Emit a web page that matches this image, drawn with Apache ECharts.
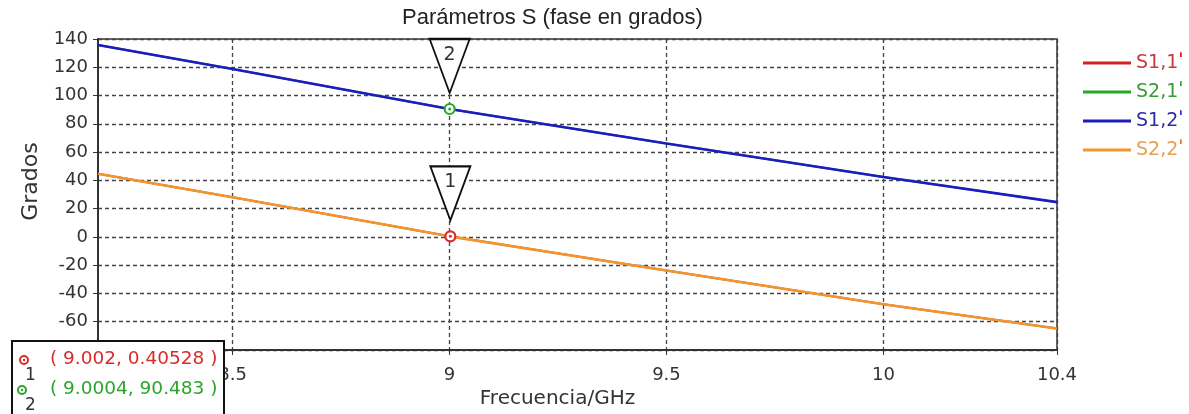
<!DOCTYPE html>
<html>
<head>
<meta charset="utf-8">
<script src="https://cdn.jsdelivr.net/npm/echarts@6/dist/echarts.min.js"></script>
<style>
html, body { margin: 0; padding: 0; background: #fff; }
#chart { width: 1189px; height: 414px; }
</style>
</head>
<body>
<div id="chart"></div>
<script>
// frecuencia (GHz) y fase (grados)
var freq = [8.19, 8.5, 9, 9.5, 10, 10.4];
var s11 = [44.7, 28, 0.4, -23.8, -47.6, -64.8];
var s21 = [135.7, 118.8, 90.5, 66.1, 42.4, 24.6];
var s12 = [135.7, 118.8, 90.5, 66.1, 42.4, 24.6];
var s22 = [44.7, 28, 0.4, -23.8, -47.6, -64.8];

var xTicks = [8.5, 9, 9.5, 10, 10.4];

// marcadores
var markerNames = ['1', '2'];
var markerFreq = [9.002, 9.0004];
var markerPhase = [0.40528, 90.483];
var markerColors = ['#d92b2b', '#2aa52a'];

var names = ['S1,1', 'S2,1', 'S1,2', 'S2,2'];
var lineColors = ['#d42020', '#22aa22', '#1c1cc0', '#f0952f'];
var textColors = ['#c83a3a', '#3a9a3a', '#2e2ea6', '#e6a055'];
var tickColors = ['#e00000', '#1f9f1f', '#2020c0', '#f07010'];

function pairs(xs, ys) {
    var out = [];
    for (var i = 0; i < xs.length; i++) out.push([xs[i], ys[i]]);
    return out;
}

var chart = echarts.init(document.getElementById('chart'));

var dashed = { color: '#444', type: [4, 3], width: 1.3 };
var font = 'DejaVu Sans';

var series = [];
[s11, s21, s12, s22].forEach(function (d, i) {
    series.push({
        name: names[i],
        type: 'line',
        data: pairs(freq, d),
        showSymbol: false,
        smooth: false,
        lineStyle: { color: lineColors[i], width: i >= 2 ? 2.6 : 2 },
        itemStyle: { color: lineColors[i] },
        z: 3 + i
    });
});

var mkData = markerNames.map(function (n, i) {
    return { value: [markerFreq[i], markerPhase[i]], name: n };
});

// triangulos con numero
series.push({
    type: 'scatter',
    data: mkData,
    symbol: 'path://M0,0 L40,0 L20,54 Z',
    symbolSize: [40, 54],
    symbolOffset: [0, -43],
    itemStyle: { color: '#fff', borderColor: '#111', borderWidth: 2, opacity: 1 },
    label: {
        show: true, position: 'inside', formatter: '{b}',
        offset: [0, -11], color: '#333', fontFamily: font, fontSize: 19
    },
    silent: true,
    z: 10
});
// anillos
series.push({
    type: 'scatter',
    data: mkData.map(function (d, i) {
        return { value: d.value, itemStyle: { borderColor: markerColors[i] } };
    }),
    symbol: 'circle',
    symbolSize: 10,
    itemStyle: { color: '#fff', borderWidth: 2.2, opacity: 1 },
    silent: true,
    z: 11
});
series.push({
    type: 'scatter',
    data: mkData.map(function (d, i) {
        return { value: d.value, itemStyle: { color: markerColors[i] } };
    }),
    symbol: 'circle',
    symbolSize: 3,
    itemStyle: { opacity: 1 },
    silent: true,
    z: 12
});

var rich = {};
tickColors.forEach(function (c, i) {
    rich['m' + i] = { color: c, fontSize: 17, fontWeight: 'bold', fontFamily: font, verticalAlign: 'top', padding: [0, 0, 6, 0] };
});

// caja de marcadores abajo a la izquierda
var boxChildren = [{
    type: 'rect', z: 100,
    shape: { x: 12, y: 341, width: 212, height: 80 },
    style: { fill: '#fff', stroke: '#111', lineWidth: 2 }
}];
markerNames.forEach(function (n, i) {
    var cy = 362 + i * 30;
    var cx = i === 0 ? 24 : 22;
    boxChildren.push({
        type: 'circle', z: 101, shape: { cx: cx, cy: cy - 2, r: 4 },
        style: { fill: '#fff', stroke: markerColors[i], lineWidth: 2 }
    });
    boxChildren.push({
        type: 'circle', z: 102, shape: { cx: cx, cy: cy - 2, r: 1.2 },
        style: { fill: markerColors[i] }
    });
    boxChildren.push({
        type: 'text', z: 101, x: 25, y: cy + 5,
        style: { text: n, fill: '#333', font: '17px "DejaVu Sans"' }
    });
    boxChildren.push({
        type: 'text', z: 101, x: 50, y: cy - 12,
        style: {
            text: '( ' + markerFreq[i] + ', ' + markerPhase[i] + ' )',
            fill: markerColors[i], font: '18.5px "DejaVu Sans"'
        }
    });
});

var option = {
    animation: false,
    backgroundColor: '#fff',
    title: {
        text: 'Parámetros S (fase en grados)',
        left: 402, top: 7, padding: 0,
        textStyle: { fontFamily: 'Liberation Sans', fontSize: 22, fontWeight: 'normal', color: '#222' }
    },
    legend: {
        orient: 'vertical',
        left: 1078, top: 48,
        icon: 'rect',
        itemWidth: 48, itemHeight: 3,
        itemGap: 9, itemTextGap: 4,
        data: names.map(function (n, i) {
            return { name: n, textStyle: { color: textColors[i] } };
        }),
        formatter: function (name) {
            return name + '{m' + names.indexOf(name) + '|ˈ}';
        },
        textStyle: { fontFamily: font, fontSize: 19, lineHeight: 20, rich: rich }
    },
    grid: {
        left: 98, right: 132, top: 39, bottom: 64,
        show: true, borderColor: '#333', borderWidth: 1.5
    },
    xAxis: {
        type: 'value',
        min: 8.19, max: 10.4,
        name: 'Frecuencia/GHz',
        nameLocation: 'middle', nameGap: 28,
        nameTextStyle: { fontFamily: font, fontSize: 20, color: '#333', padding: [0, 40, 0, 0] },
        axisLine: { onZero: false, lineStyle: { color: '#333', width: 2 } },
        axisTick: { customValues: xTicks, length: 5, lineStyle: { color: '#333' } },
        axisLabel: { customValues: xTicks, margin: 16, fontFamily: font, fontSize: 18, color: '#333' },
        splitLine: { show: true, lineStyle: dashed }
    },
    yAxis: {
        type: 'value',
        min: -80, max: 140, interval: 20,
        name: 'Grados',
        nameLocation: 'middle', nameGap: 44,
        nameTextStyle: { fontFamily: font, fontSize: 22, color: '#333', padding: [0, 0, 0, 26] },
        axisLine: { show: true, onZero: false, lineStyle: { color: '#333', width: 2 } },
        axisTick: { show: true, length: 5, lineStyle: { color: '#333' } },
        axisLabel: { margin: 10, fontFamily: font, fontSize: 18, color: '#333' },
        splitLine: { show: true, lineStyle: dashed }
    },
    graphic: [{ type: 'group', z: 100, children: boxChildren }],
    series: series
};

chart.setOption(option);
</script>
</body>
</html>
